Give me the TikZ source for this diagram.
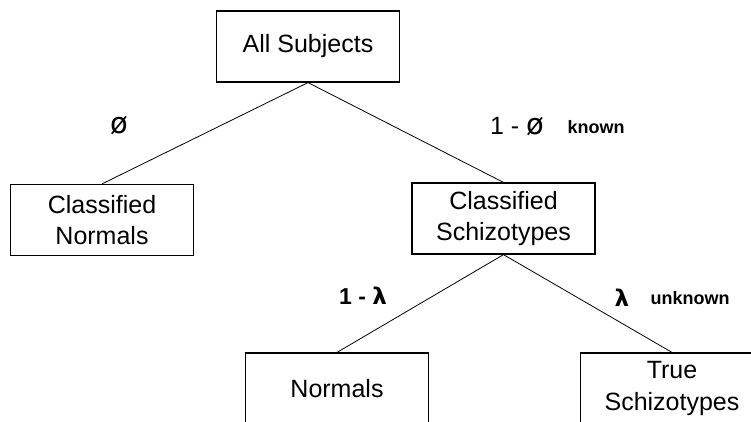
\documentclass[tikz,border=0pt]{standalone}
\usepackage{fontspec}
\setmainfont{Liberation Sans}
\newfontfamily\symfont{DejaVu Sans}
\usetikzlibrary{positioning}
\tikzset{every node/.append style={align=center}}
\tikzset{
  treebox/.style={draw, line width=1.2pt, inner sep=0pt, minimum width=183pt, minimum height=71pt, font=\fontsize{25}{31.5}\selectfont},
  branch/.style={line width=0.8pt},
  prob/.style={inner sep=0pt, font=\fontsize{25}{30}\selectfont},
  greek/.style={inner sep=0pt, font=\fontsize{23}{26}\selectfont\bfseries},
  note/.style={inner sep=0pt, font=\fontsize{18}{20}\selectfont\bfseries}
}

\begin{document}
\begin{tikzpicture}[x=1pt, y=-1pt]
    \path[use as bounding box, clip] (0, 0) rectangle (751, 421);

    % Boxes
    \node[treebox] (all) at (308, 46.5) {All Subjects};
    \node[treebox] (cnorm) at (102, 220) {Classified\\Normals};
    \node[treebox] (cschiz) at (503.5, 218.5) {Classified\\Schizotypes};
    \node[treebox] (norm) at (337, 388.5) {Normals};
    \node[treebox] (tschiz) at (672, 388.5) {True\\Schizotypes};

    % Branches
    \draw[branch] (all.south) -- (cnorm.north);
    \draw[branch] (all.south) -- (cschiz.north);
    \draw[branch] (cschiz.south) -- (norm.north);
    \draw[branch] (cschiz.south) -- (tschiz.north);

    % Probabilities
    \node[prob] (phi) at (119, 126) {\symfont\fontsize{29}{30}\selectfont ø};
    \node[prob] (notphi) at (517, 127) {1 - {\symfont\fontsize{29}{30}\selectfont ø}};
    \node[note] (known) at (596, 127) {known};
    \node[greek] (notlam) at (363, 296) {1 - {\symfont λ}};
    \node[greek] (lam) at (622, 298) {\symfont λ};
    \node[note] (unknown) at (690, 298) {unknown};
\end{tikzpicture}
\end{document}
